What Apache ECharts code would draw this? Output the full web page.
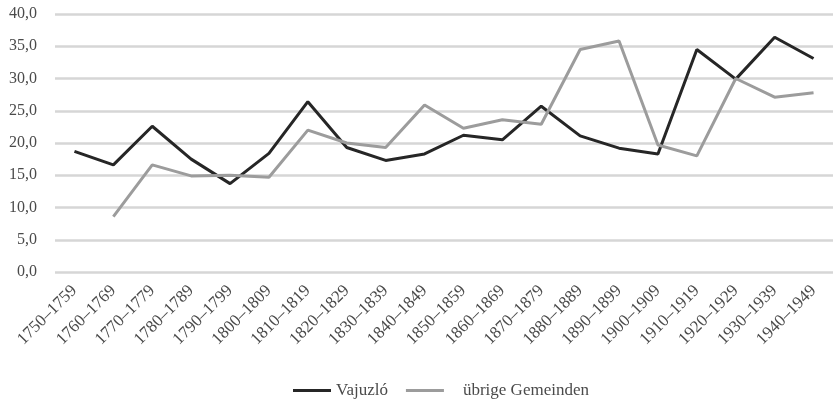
<!DOCTYPE html>
<html>
<head>
<meta charset="utf-8">
<script src="https://cdn.jsdelivr.net/npm/echarts@6/dist/echarts.min.js"></script>
<style>
  html, body { margin: 0; padding: 0; background: #fff; }
  #chart { width: 833px; height: 400px; }
</style>
</head>
<body>
<div id="chart"></div>
<script>
// Jahrzehnte
var categories = ["1750–1759", "1760–1769", "1770–1779", "1780–1789", "1790–1799",
  "1800–1809", "1810–1819", "1820–1829", "1830–1839", "1840–1849", "1850–1859",
  "1860–1869", "1870–1879", "1880–1889", "1890–1899", "1900–1909", "1910–1919",
  "1920–1929", "1930–1939", "1940–1949"];
var vajuzlo = [18.7, 16.6, 22.6, 17.5, 13.7, 18.4, 26.4, 19.3, 17.3, 18.3, 21.2,
  20.5, 25.7, 21.1, 19.2, 18.3, 34.5, 29.9, 36.4, 33.1];
var uebrige = [null, 8.6, 16.6, 14.9, 15.0, 14.7, 22.0, 20.0, 19.3, 25.9, 22.3,
  23.6, 22.9, 34.5, 35.8, 19.7, 18.0, 30.0, 27.1, 27.8];

var font = '"Liberation Serif", "DejaVu Serif", serif';
var chart = echarts.init(document.getElementById("chart"));
chart.setOption({
  animation: false,
  grid: { left: 55, top: 14, width: 783, height: 258, containLabel: false },
  legend: {
    top: 377,
    left: 288,
    icon: 'rect',
    itemWidth: 38,
    itemHeight: 3,
    itemGap: 18,
    textStyle: { fontFamily: font, fontSize: 17, color: '#4a4a4a',
      rich: { p: { fontFamily: font, fontSize: 17, color: '#4a4a4a', padding: [0, 0, 0, 14] } } },
    formatter: function (name) {
      return name === 'übrige Gemeinden' ? '{p|' + name + '}' : name;
    },
    data: ['Vajuzló', 'übrige Gemeinden']
  },
  xAxis: {
    type: 'category',
    data: categories,
    boundaryGap: true,
    axisLine: { show: false },
    axisTick: { show: false },
    axisLabel: { rotate: 45, interval: 0, margin: 16, fontFamily: font, fontSize: 17, color: '#4a4a4a' }
  },
  yAxis: {
    type: 'value',
    min: 0,
    max: 40,
    interval: 5,
    axisLine: { show: false },
    axisTick: { show: false },
    splitLine: { lineStyle: { color: '#d6d6d6', width: 2.5 } },
    axisLabel: {
      margin: 18, fontFamily: font, fontSize: 16, color: '#4a4a4a',
      formatter: function (v) { return v.toFixed(1).replace('.', ','); }
    }
  },
  series: [
    {
      name: 'Vajuzló', type: 'line', data: vajuzlo, symbol: 'none',
      lineStyle: { color: '#262626', width: 3 }, itemStyle: { color: '#262626' }
    },
    {
      name: 'übrige Gemeinden', type: 'line', data: uebrige, symbol: 'none',
      lineStyle: { color: '#9c9c9c', width: 3 }, itemStyle: { color: '#9c9c9c' }
    }
  ]
});
</script>
</body>
</html>
